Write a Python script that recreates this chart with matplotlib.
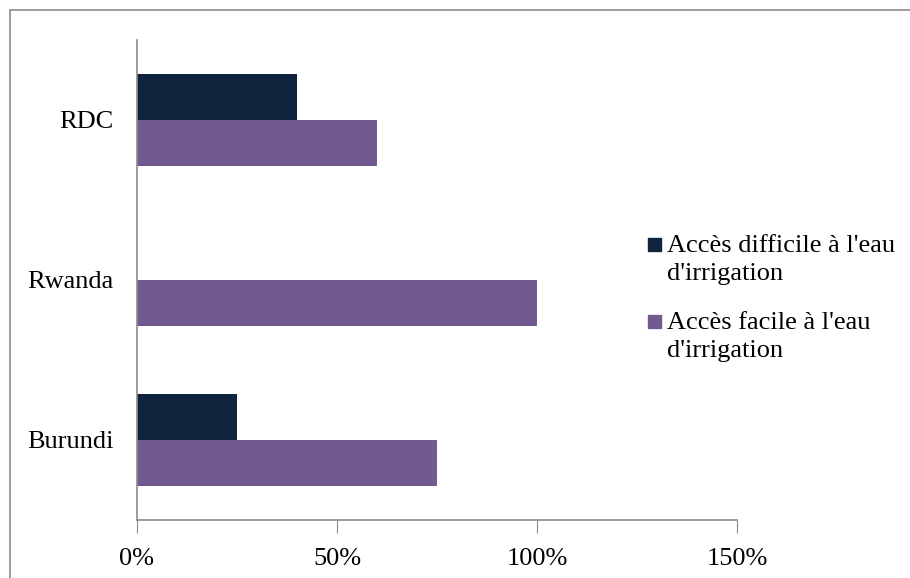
import numpy as np
import matplotlib.pyplot as plt
from matplotlib.lines import Line2D
from matplotlib.patches import Rectangle

pays = ['Burundi', 'Rwanda', 'RDC']
acces_difficile = [25, 0, 40]
acces_facile = [75, 100, 60]
x_ticks = [0, 50, 100, 150]
series = ["Accès difficile à l'eau\nd'irrigation", "Accès facile à l'eau\nd'irrigation"]
couleurs = ['#10243e', '#725a8f']

plt.rcParams['font.family'] = ['Liberation Serif', 'DejaVu Serif']

fig = plt.figure(figsize=(9.1, 5.78), dpi=100)
ax = fig.add_axes([137 / 910, 1 - 520 / 578, 600 / 910, 480 / 578])

y = np.arange(len(pays))
h = 0.285
ax.barh(y + h / 2, acces_difficile, height=h, color=couleurs[0])
ax.barh(y - h / 2, acces_facile, height=h, color=couleurs[1])

ax.set_xlim(0, 150)
ax.set_ylim(-0.5, 2.5)
ax.set_xticks(x_ticks)
ax.set_xticklabels([f'{t}%' for t in x_ticks], fontsize=19)
ax.set_yticks(y)
ax.set_yticklabels(pays, fontsize=19)
ax.tick_params(axis='y', length=0, pad=17)
ax.tick_params(axis='x', length=9, color='#8c8c8c', pad=11, direction='out')

for s in ['top', 'right']:
    ax.spines[s].set_visible(False)
for s in ['left', 'bottom']:
    ax.spines[s].set_color('#8c8c8c')
    ax.spines[s].set_linewidth(1.2)

# cadre du graphique
fig.add_artist(Line2D([10 / 910, 10 / 910], [0, 1 - 10 / 578],
                      transform=fig.transFigure, color='#8c8c8c', lw=1.2))
fig.add_artist(Line2D([10 / 910, 1], [1 - 10 / 578, 1 - 10 / 578],
                      transform=fig.transFigure, color='#8c8c8c', lw=1.2))

# légende: carré aligné sur la première ligne
for i, (lab, c) in enumerate(zip(series, couleurs)):
    ligne1 = 245 + i * 77
    fig.add_artist(Rectangle((648 / 910, 1 - (ligne1 + 6) / 578), 13 / 910, 13 / 578,
                             transform=fig.transFigure, color=c))
    fig.text(667 / 910, 1 - (ligne1 + 15) / 578, lab, fontsize=19,
             va='center', ha='left', linespacing=1.35)

fig.savefig('out.png', dpi=100)
